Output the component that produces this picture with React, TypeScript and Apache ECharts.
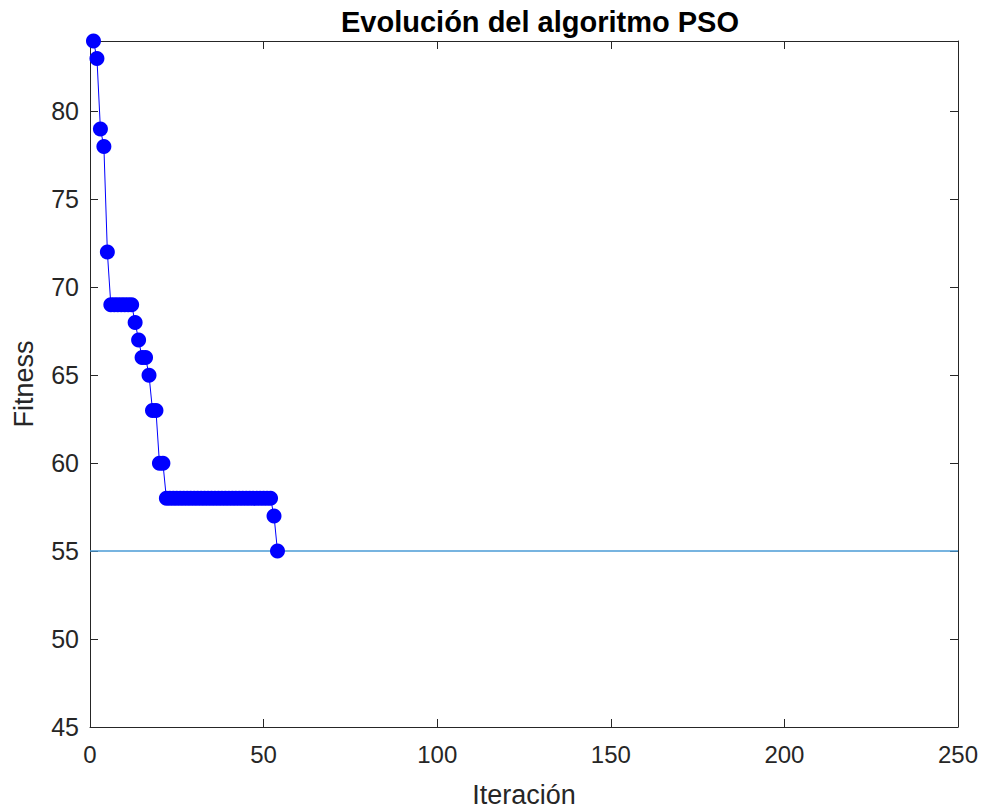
import React, { useEffect, useRef } from "react";
import * as echarts from "echarts";

const fitness: number[] = [
  84, 83, 79, 78, 72,
  69, 69, 69, 69, 69, 69, 69,
  68, 67, 66, 66, 65, 63, 63, 60, 60,
  58, 58, 58, 58, 58, 58, 58, 58, 58, 58,
  58, 58, 58, 58, 58, 58, 58, 58, 58, 58,
  58, 58, 58, 58, 58, 58, 58, 58, 58, 58,
  58, 57, 55,
];
const iterations: number[] = fitness.map((_, i) => i + 1);
const refX: number[] = [0, 250];
const refY: number[] = [55, 55];
const xTicks: number[] = [0, 50, 100, 150, 200, 250];
const yTicks: number[] = [45, 50, 55, 60, 65, 70, 75, 80];

const FONT = "'Liberation Sans', Arial, Helvetica, sans-serif";
const AX = "#262626";

export default function App() {
  const ref = useRef<HTMLDivElement>(null);
  useEffect(() => {
    if (!ref.current) return;
    const chart = echarts.init(ref.current, undefined, { renderer: "svg" });
    const axisCommon = {
      axisLine: { show: true, onZero: false, lineStyle: { color: AX, width: 1 } },
      axisTick: { show: true, inside: true, length: 8, lineStyle: { color: AX, width: 1 } },
      splitLine: { show: false },
    };
    chart.setOption({
      animation: false,
      backgroundColor: "#ffffff",
      title: {
        text: "Evolución del algoritmo PSO",
        left: 535,
        textAlign: "center",
        top: 2,
        textStyle: { fontFamily: FONT, fontSize: 29, fontWeight: "bold", color: "#000000" },
      },
      grid: {
        left: 90,
        right: 32,
        top: 41,
        bottom: 82,
        show: false,
        containLabel: false,
        outerBoundsMode: "none",
      },
      xAxis: [
        {
          type: "value",
          min: xTicks[0],
          max: xTicks[xTicks.length - 1],
          interval: 50,
          position: "bottom",
          name: "Iteración",
          nameLocation: "middle",
          nameGap: 54,
          nameTextStyle: { fontFamily: FONT, fontSize: 27, color: AX },
          axisLabel: { fontFamily: FONT, fontSize: 24, color: AX, margin: 15 },
          ...axisCommon,
        },
        {
          type: "value",
          min: xTicks[0],
          max: xTicks[xTicks.length - 1],
          interval: 50,
          position: "top",
          axisLabel: { show: false },
          ...axisCommon,
        },
      ],
      yAxis: [
        {
          type: "value",
          min: 45,
          max: 84,
          interval: 5,
          position: "left",
          name: "Fitness",
          nameLocation: "middle",
          nameGap: 53,
          nameTextStyle: { fontFamily: FONT, fontSize: 27, color: AX },
          axisLabel: {
            fontFamily: FONT,
            fontSize: 25,
            color: AX,
            margin: 11,
            formatter: (v: number) => (yTicks.includes(v) ? String(v) : ""),
          },
          ...axisCommon,
        },
        {
          type: "value",
          min: 45,
          max: 84,
          interval: 5,
          position: "right",
          axisLabel: { show: false },
          ...axisCommon,
        },
      ],
      series: [
        {
          type: "line",
          data: refX.map((x, i) => [x, refY[i]]),
          symbol: "none",
          lineStyle: { color: "#4a9bd6", width: 1.5 },
          silent: true,
          z: 1,
        },
        {
          type: "line",
          data: iterations.map((x, i) => [x, fitness[i]]),
          symbol: "circle",
          symbolSize: 15,
          itemStyle: { color: "#0000ff" },
          lineStyle: { color: "#0000ff", width: 1 },
          clip: false,
          z: 3,
        },
      ],
    });
    return () => chart.dispose();
  }, []);
  return (
    <div
      ref={ref}
      style={{ position: "fixed", left: 0, top: 0, width: 990, height: 809, background: "#fff" }}
    />
  );
}
